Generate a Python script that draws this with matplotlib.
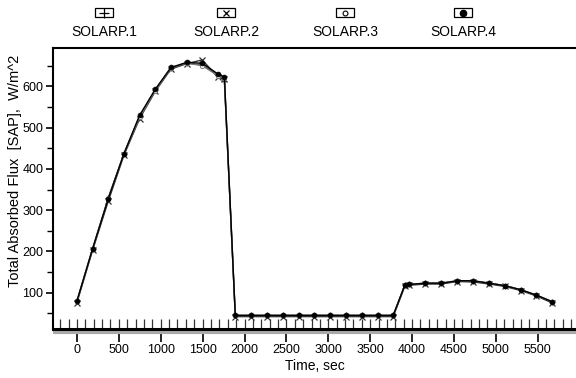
import numpy as np
import matplotlib
matplotlib.use("Agg")
import matplotlib.pyplot as plt
from matplotlib.ticker import MultipleLocator

# time samples (sec)
time = [0, 187, 374, 561, 748, 935, 1122, 1309, 1496, 1683, 1760,
        1890, 2080, 2270, 2460, 2645, 2835, 3020, 3210, 3400, 3590, 3775,
        3915, 3965, 4160, 4350, 4540, 4730, 4920, 5110, 5300, 5485, 5675]

solarp1 = [80, 206, 330, 437, 528, 592, 644, 656, 652, 628, 612,
           45, 45, 45, 45, 45, 45, 45, 45, 45, 45, 45,
           119, 120, 123, 123, 128, 128, 123, 117, 107, 94, 78]
solarp2 = [76, 203, 322, 433, 522, 588, 642, 655, 664, 622, 618,
           42, 42, 42, 42, 42, 42, 42, 42, 42, 42, 42,
           116, 118, 121, 121, 127, 126, 121, 115, 105, 92, 75]
solarp3 = [80, 207, 329, 436, 526, 590, 645, 657, 650, 626, 620,
           45, 45, 45, 45, 45, 45, 45, 45, 45, 45, 45,
           119, 120, 123, 123, 129, 129, 123, 117, 107, 94, 78]
solarp4 = [80, 207, 328, 437, 530, 593, 646, 658, 656, 630, 623,
           45, 45, 45, 45, 45, 45, 45, 45, 45, 45, 45,
           119, 120, 123, 123, 129, 129, 123, 117, 107, 94, 78]

names = ["SOLARP.1", "SOLARP.2", "SOLARP.3", "SOLARP.4"]

SANS = ["Liberation Sans", "DejaVu Sans"]
plt.rcParams["font.family"] = SANS

fig = plt.figure(figsize=(5.76, 3.78), dpi=100)
ax = fig.add_axes([53 / 576, 1 - 329 / 378, 523 / 576, 281 / 378])

styles = [
    dict(color="#555555", marker="+", ms=5, mew=0.9),
    dict(color="#333333", marker="x", ms=4, mew=0.9),
    dict(color="#777777", marker="o", ms=3, mfc="white", mew=0.7),
    dict(color="black", marker="o", ms=3.5, mfc="black", mew=0.5),
]
for vals, st in zip([solarp1, solarp2, solarp3, solarp4], styles):
    ax.plot(time, vals, lw=1.0, **st)

ax.set_xlim(-286, 5957)
ax.set_ylim(12, 693)

ax.spines["right"].set_visible(False)
ax.spines["top"].set_linewidth(1.5)
ax.spines["left"].set_linewidth(1.5)
ax.spines["bottom"].set_linewidth(2.2)
# grey shadow under the time axis
ax.plot([0, 1], [-0.012, -0.012], transform=ax.transAxes, color="#aaaaaa",
        lw=3, clip_on=False, solid_capstyle="butt")

ax.xaxis.set_major_locator(MultipleLocator(500))
ax.xaxis.set_minor_locator(MultipleLocator(100))
ax.xaxis.remove_overlapping_locs = False
ax.tick_params(axis="x", which="major", direction="out", length=9, width=1.2)
ax.tick_params(axis="x", which="minor", direction="in", length=7, width=0.9,
               color="#333333")
ax.set_xticks(np.arange(0, 5501, 500))

ax.yaxis.set_major_locator(MultipleLocator(100))
ax.yaxis.set_minor_locator(MultipleLocator(50))
ax.set_yticks(np.arange(100, 601, 100))
ax.tick_params(axis="y", which="major", direction="out", length=5, width=1.2)
ax.tick_params(axis="y", which="minor", direction="out", length=4, width=1.0)
ax.tick_params(pad=2, labelsize=9)

ax.set_xlabel("Time, sec", fontsize=10, labelpad=2)
fig.text(15 / 576, 1 - 171 / 378, "Total Absorbed Flux  [SAP],  W/m^2",
         rotation=90, ha="center", va="center", fontsize=10.5)

# legend across the top
leg_x = [104, 226, 345, 463]
mk = [dict(marker="+", ms=7, mew=0.9, color="black"),
      dict(marker="x", ms=5, mew=0.9, color="black"),
      dict(marker="o", ms=3.5, mfc="white", mew=0.8, color="black"),
      dict(marker="o", ms=4.5, mfc="black", color="black")]
for x, name, m in zip(leg_x, names, mk):
    fx = x / 576
    fig.patches.append(plt.Rectangle((fx - 9 / 576, 1 - 17 / 378), 18 / 576, 9 / 378,
                                     transform=fig.transFigure, fill=False,
                                     lw=0.9, ec="black"))
    fig.add_artist(plt.Line2D([fx], [1 - 12.5 / 378], transform=fig.transFigure,
                              ls="none", **m))
    fig.text(fx, 1 - 32 / 378, name, ha="center", va="center", fontsize=10)

fig.savefig("out.png", dpi=100)
